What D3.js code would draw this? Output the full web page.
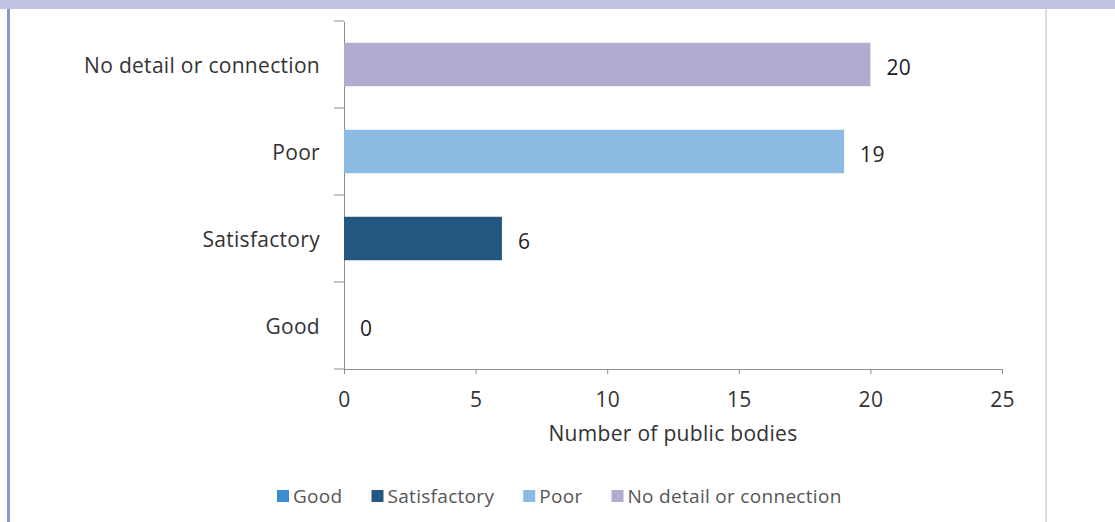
<!DOCTYPE html>
<html lang="en">
<head>
<meta charset="UTF-8">
<title>Number of public bodies</title>
<script src="https://cdn.jsdelivr.net/npm/d3@7"></script>
<style>
    html, body {
        margin: 0;
        padding: 0;
        background: #fff;
    }
    svg text {
        font-family: 'Open Sans', sans-serif;
        letter-spacing: 0.3px;
    }
</style>
</head>
<body>
<div id="chart"></div>
<script>

// data, top to bottom as drawn
var categories = ['No detail or connection', 'Poor', 'Satisfactory', 'Good'];
var values = [20, 19, 6, 0];
var barColors = ['#b2abd0', '#8dbae3', '#24577f', '#3c8dd0'];

// legend runs in the opposite order
var legendNames = ['Good', 'Satisfactory', 'Poor', 'No detail or connection'];
var legendColors = ['#3c8dd0', '#24577f', '#8dbae3', '#b2abd0'];

var xTicks = [0, 5, 10, 15, 20, 25];
var xTitle = 'Number of public bodies';

var W = 1115, H = 522;

var svg = d3.select('#chart')
    .append('svg')
    .attr('width', W)
    .attr('height', H);

// frame: lavender band on top, blue rule on the left, grey rule on the right
svg.append('rect')
    .attr('x', 0).attr('y', 0)
    .attr('width', W).attr('height', 9)
    .attr('fill', '#c0c3e1');
svg.append('rect')
    .attr('x', 7).attr('y', 9)
    .attr('width', 3).attr('height', H - 9)
    .attr('fill', '#8e96d6');
svg.append('rect')
    .attr('x', 1045).attr('y', 9)
    .attr('width', 2).attr('height', H - 9)
    .attr('fill', '#dcdcdc');

var x = d3.scaleLinear()
    .domain([0, 25])
    .range([344, 1002]);

var y = d3.scaleBand()
    .domain(categories)
    .range([21, 369])
    .paddingInner(0.5)
    .paddingOuter(0.25);

var axisColor = '#8c8c8c';

// x axis
var gx = svg.append('g')
    .attr('transform', 'translate(0,369)')
    .call(d3.axisBottom(x).tickValues(xTicks).tickSize(5).tickPadding(18).tickSizeOuter(0));
gx.select('.domain').attr('stroke', axisColor);
gx.selectAll('.tick line').attr('stroke', axisColor);
gx.selectAll('.tick text')
    .attr('fill', '#333')
    .style('font-size', '21px');

// y axis, labels only; ticks sit between categories like excel does
var gy = svg.append('g')
    .attr('transform', 'translate(344,0)')
    .call(d3.axisLeft(y).tickSize(0).tickPadding(24));
gy.select('.domain').attr('stroke', axisColor);
gy.selectAll('.tick text')
    .attr('fill', '#333')
    .attr('dy', '0.42em')
    .style('font-size', '21px');

var half = (y.step() - y.bandwidth()) / 2;
var bounds = categories.map(function(c) { return y(c) - half; });
bounds.push(y(categories[categories.length - 1]) + y.bandwidth() + half);

svg.append('g')
    .selectAll('line')
    .data(bounds)
    .enter()
    .append('line')
    .attr('x1', 334).attr('x2', 344)
    .attr('y1', function(d) { return d; })
    .attr('y2', function(d) { return d; })
    .attr('stroke', axisColor);

// bars
svg.append('g')
    .selectAll('rect')
    .data(categories)
    .enter()
    .append('rect')
    .attr('x', x(0))
    .attr('y', function(d) { return y(d); })
    .attr('width', function(d, i) { return x(values[i]) - x(0); })
    .attr('height', y.bandwidth())
    .attr('fill', function(d, i) { return barColors[i]; });

// value labels
svg.append('g')
    .selectAll('text')
    .data(categories)
    .enter()
    .append('text')
    .attr('x', function(d, i) { return x(values[i]) + 16; })
    .attr('y', function(d) { return y(d) + y.bandwidth() / 2; })
    .attr('dy', '0.48em')
    .attr('fill', '#222')
    .style('font-size', '21px')
    .text(function(d, i) { return values[i]; });

// axis title
svg.append('text')
    .attr('x', (x.range()[0] + x.range()[1]) / 2)
    .attr('y', 441)
    .attr('text-anchor', 'middle')
    .attr('fill', '#333')
    .style('font-size', '21px')
    .text(xTitle);

// legend
var legend = svg.append('g');
var lx = 277;
legendNames.forEach(function(name, i) {
    legend.append('rect')
        .attr('x', lx)
        .attr('y', 496 - 6)
        .attr('width', 12)
        .attr('height', 12)
        .attr('fill', legendColors[i]);
    var t = legend.append('text')
        .attr('x', lx + 16)
        .attr('y', 496)
        .attr('dy', '0.38em')
        .attr('fill', '#555')
        .style('font-size', '19px')
        .text(name);
    lx += 16 + t.node().getComputedTextLength() + 29;
});

</script>
</body>
</html>
